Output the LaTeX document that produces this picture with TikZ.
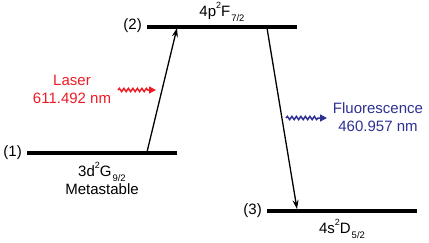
\documentclass[tikz,border=0pt]{standalone}
\usepackage{fontspec}
\setmainfont{Liberation Sans}
\usetikzlibrary{decorations.pathmorphing,arrows.meta}
\newcommand{\myup}[1]{\raisebox{0.5em}{\fontsize{9}{9}\selectfont #1}}
\newcommand{\mydn}[1]{\hspace{1pt}\raisebox{-0.35em}{\fontsize{9.5}{9.5}\selectfont #1}}
\definecolor{lasred}{HTML}{ED1C24}
\definecolor{flblue}{HTML}{2E3192}
\begin{document}
\begin{tikzpicture}[x=1pt,y=-1pt,
  levelline/.style={line width=4pt},
  trans/.style={line width=1.3pt,-{Stealth[length=9pt,width=6pt]}},
  lbl/.style={font=\fontsize{15}{18}\selectfont, inner sep=0pt},
  wave/.style={decorate,decoration={snake,amplitude=1.6pt,segment length=4.5pt,post length=7pt},line width=1.5pt,-{Triangle[length=7pt,width=7pt]}}]
\useasboundingbox (0,0) rectangle (429,242);
% level end points
\coordinate (l1a) at (27,153);
\coordinate (l1b) at (177,153);
\coordinate (l2a) at (147,27);
\coordinate (l2b) at (297,27);
\coordinate (l3a) at (267,211);
\coordinate (l3b) at (417,211);
\draw[levelline] (l1a) -- (l1b);
\draw[levelline] (l2a) -- (l2b);
\draw[levelline] (l3a) -- (l3b);
% level labels
\node[lbl,anchor=east] (n1) at (22,153) {(1)};
\node[lbl,anchor=east] (n2) at (142,26) {(2)};
\node[lbl,anchor=east] (n3) at (262,211) {(3)};
\node[lbl] (s2) at (222,12) {4p\myup{2}F\mydn{7/2}};
\node[lbl] (s1) at (102,172) {3d\myup{2}G\mydn{9/2}};
\node[lbl] (meta) at (102,189) {Metastable};
\node[lbl] (s3) at (342,229) {4s\myup{2}D\mydn{5/2}};
% transitions
\coordinate (up0) at (147,152);
\coordinate (up1) at (177,28);
\coordinate (dn0) at (267,28);
\coordinate (dn1) at (297,209);
\draw[trans] (up0) -- (up1);
\draw[trans] (dn0) -- (dn1);
% laser
\node[lbl,text=lasred,align=center] (laser) at (72,89) {Laser\\611.492 nm};
\coordinate (lw0) at (118,90);
\coordinate (lw1) at (156,90);
\draw[wave,lasred] (lw0) -- (lw1);
% fluorescence
\node[lbl,text=flblue,align=center] (fluo) at (378,117) {Fluorescence\\460.957 nm};
\coordinate (fw0) at (286,118);
\coordinate (fw1) at (327,118);
\draw[wave,flblue] (fw0) -- (fw1);
\end{tikzpicture}
\end{document}
